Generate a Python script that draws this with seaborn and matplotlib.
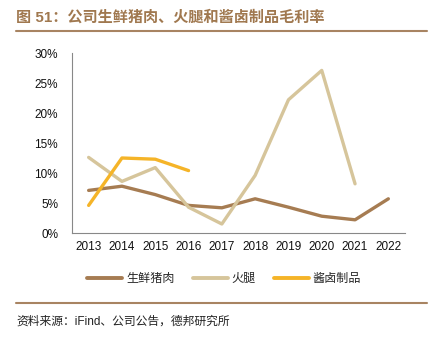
import numpy as np
import pandas as pd
import matplotlib
matplotlib.use("Agg")
import matplotlib.pyplot as plt
import seaborn as sns

years = ["2013", "2014", "2015", "2016", "2017", "2018", "2019", "2020", "2021", "2022"]
pork = [7.1, 7.8, 6.4, 4.6, 4.2, 5.7, 4.3, 2.8, 2.2, 5.7]
ham = [12.6, 8.6, 10.9, 4.3, 1.5, 9.6, 22.2, 27.1, 8.2, None]
braised = [4.6, 12.5, 12.3, 10.4, None, None, None, None, None, None]
series_names = ["生鲜猪肉", "火腿", "酱卤制品"]
colors = ["#A67C52", "#D6C59B", "#F5B428"]
yticks = [0, 5, 10, 15, 20, 25, 30]

sns.set_theme(style="white")
plt.rcParams["font.family"] = ["Liberation Sans", "Noto Sans CJK SC"]

rows = []
for name, vals in zip(series_names, [pork, ham, braised]):
    for i, v in enumerate(vals):
        if v is not None:
            rows.append({"x": i, "value": v, "series": name})
df = pd.DataFrame(rows)

fig = plt.figure(figsize=(4.36, 3.4), dpi=100)
ax = fig.add_axes([72 / 436, 1 - 233 / 340, 333 / 436, 180 / 340])

sns.lineplot(data=df, x="x", y="value", hue="series", hue_order=series_names,
             palette=colors, linewidth=2.4, ax=ax, legend=False, sort=False)

ax.set_xlim(-0.5, 9.5)
ax.set_ylim(0, 30)
ax.set_xticks(range(len(years)))
ax.set_xticklabels(years, fontsize=8.5, color="#111111")
ax.tick_params(axis="x", which="major", length=0, pad=6)
ax.set_xticks(np.arange(-0.5, 10, 1), minor=True)
ax.tick_params(axis="x", which="minor", direction="in", length=3.5, width=0.7, color="#888888")
ax.set_yticks(yticks)
ax.set_yticklabels([f"{t}%" for t in yticks], fontsize=8.5, color="#111111")
ax.tick_params(axis="y", which="major", direction="in", length=3.5, width=0.7, color="#888888", pad=10)
ax.set_xlabel("")
ax.set_ylabel("")
for s in ["top", "right"]:
    ax.spines[s].set_visible(False)
for s in ["left", "bottom"]:
    ax.spines[s].set_color("#888888")
    ax.spines[s].set_linewidth(0.8)
ax.grid(False)

handles = [plt.Line2D([], [], color=c, linewidth=2.8) for c in colors]
fig.legend(handles, series_names, loc="center", bbox_to_anchor=(0.514, 1 - 279 / 340),
           ncol=3, frameon=False, fontsize=8.7, handlelength=2.9, columnspacing=1.5,
           handletextpad=0.3)

fig.text(16 / 436, 1 - 17 / 340, "图 51：公司生鲜猪肉、火腿和酱卤制品毛利率", fontsize=10.9,
         fontweight="bold", color="#A0784F", va="center", ha="left")
fig.add_artist(plt.Line2D([16 / 436, 427 / 436], [1 - 31 / 340, 1 - 31 / 340],
                          color="#A88462", linewidth=1.5))
fig.add_artist(plt.Line2D([16 / 436, 427 / 436], [1 - 303 / 340, 1 - 303 / 340],
                          color="#A88462", linewidth=1.5))
fig.text(16 / 436, 1 - 322 / 340, "资料来源：iFind、公司公告，德邦研究所", fontsize=8.5,
         color="#222222", va="center", ha="left")

fig.savefig("out.png", dpi=100)
